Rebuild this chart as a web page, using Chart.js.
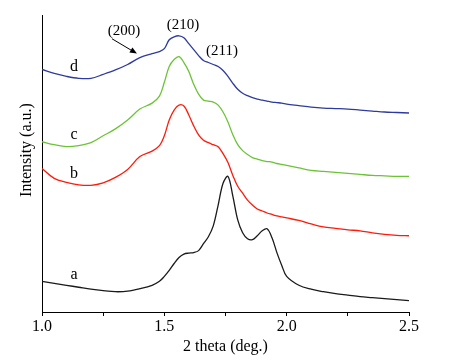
<!DOCTYPE html>
<html>
<head>
<meta charset="utf-8">
<title>SAXS patterns</title>
<script src="https://cdn.jsdelivr.net/npm/chart.js@4.4.1/dist/chart.umd.min.js"></script>
<style>
  html,body{margin:0;padding:0;background:#fff;}
  #wrap{position:relative;width:458px;height:361px;}
</style>
</head>
<body>
<div id="wrap"><canvas id="c" width="458" height="361"></canvas></div>
<script>
/* ---------- data ---------- */
const twoTheta=[1.00,1.05,1.10,1.15,1.20,1.25,1.30,1.35,1.40,1.45,1.48,1.50,1.52,1.54,1.56,1.58,1.60,1.62,1.64,1.66,1.68,1.70,1.72,1.74,1.76,1.78,1.80,1.82,1.84,1.86,1.88,1.90,1.92,1.94,1.96,1.98,2.00,2.05,2.10,2.15,2.20,2.25,2.30,2.35,2.40,2.45,2.50];

const curveA=[31,29,27,25,23,21.5,20.5,21,23.5,27,31,36,42,49,55,58.5,59.5,60,62,69,76,87,108,130,137,117,93,80,74,73,77,82,84,75,60,47,36,27,23,20.5,18.5,17,15.5,14.5,13.5,12.5,11.5];
const curveB=[145,135,131,128.5,128,130.5,136,144,157,162.5,168,178,194,204,209,208,199,188,179,173.5,171,169,167,160,151,138,127,120,113,108,104,102,100,98.5,97,96,95,92.5,89,86,84.5,83,82,80,78.5,77.5,77];
const curveC=[172,169,167,168,171,178,185,194,205,211,218,232,248,255,258,252,243,230,220,214,213,212,209,202,192,179,169,163,159,156,154.5,153,152,151.5,150,149,148,145.5,143,142,141,140,139,138,137.5,137,137];
const curveD=[245,241,238,236,236,240,244.5,250,257,261,263,266,275,278,279,277,271,265,259,254,252,250,248,244,238,231,225,221,218.5,216.5,215,214,213,212,211.5,211,210,208.5,207,206,205.5,205,204,203,202,201.5,201];

const seriesNames=['a','b','c','d'];
const seriesColors=['#1a1a1a','#ff1a0a','#6cc337','#2e3b9e'];

const xTicksMajor=[1.0,1.5,2.0,2.5];

// curve letters: [text, x, y]
const letterLabels=[['a',1.131,33],['b',1.131,135],['c',1.131,175],['d',1.131,243]];
// reflection labels: [text, x, y]
const peakLabels=[['(200)',1.335,280],['(210)',1.576,286],['(211)',1.736,260]];
// arrow for (200): [x0,y0,x1,y1]
const arrow200=[1.286,276,1.388,261];

/* ---------- chart ---------- */
Chart.defaults.font.family="'Liberation Serif','Times New Roman',serif";
Chart.defaults.color='#000';

const series=[curveA,curveB,curveC,curveD];
const datasets=series.map((ys,i)=>({
  label:seriesNames[i],
  data:ys.map((y,k)=>({x:twoTheta[k],y})),
  borderColor:seriesColors[i],
  borderWidth:1.3,
  pointRadius:0,
  tension:0.35,
  fill:false
}));

const annot={
  id:'annot',
  afterDatasetsDraw(chart){
    const {ctx,scales:{x,y},chartArea:a}=chart;
    ctx.save();
    ctx.fillStyle='#000';
    ctx.font="16px 'Liberation Serif',serif";
    ctx.textAlign='center';ctx.textBaseline='alphabetic';
    letterLabels.forEach(([t,vx,vy])=>ctx.fillText(t,x.getPixelForValue(vx),y.getPixelForValue(vy)));
    ctx.font="15px 'Liberation Serif',serif";
    peakLabels.forEach(([t,vx,vy])=>ctx.fillText(t,x.getPixelForValue(vx),y.getPixelForValue(vy)));
    // arrow
    const x0=x.getPixelForValue(arrow200[0]),y0=y.getPixelForValue(arrow200[1]);
    const x1=x.getPixelForValue(arrow200[2]),y1=y.getPixelForValue(arrow200[3]);
    const ang=Math.atan2(y1-y0,x1-x0);
    ctx.strokeStyle='#000';ctx.lineWidth=1;
    ctx.beginPath();ctx.moveTo(x0,y0);ctx.lineTo(x1-4*Math.cos(ang),y1-4*Math.sin(ang));ctx.stroke();
    ctx.beginPath();
    ctx.moveTo(x1,y1);
    ctx.lineTo(x1-7*Math.cos(ang)+3*Math.sin(ang),y1-7*Math.sin(ang)-3*Math.cos(ang));
    ctx.lineTo(x1-7*Math.cos(ang)-3*Math.sin(ang),y1-7*Math.sin(ang)+3*Math.cos(ang));
    ctx.closePath();ctx.fill();
    // y axis title
    ctx.font="16px 'Liberation Serif',serif";
    ctx.translate(a.left-15,a.top+135);
    ctx.rotate(-Math.PI/2);
    ctx.textBaseline='middle';
    ctx.fillText('Intensity (a.u.)',0,0);
    ctx.restore();
  }
};

new Chart(document.getElementById('c'),{
  type:'line',
  data:{datasets},
  options:{
    responsive:false,
    animation:false,
    layout:{padding:{left:42,top:15,right:49,bottom:6}},
    plugins:{legend:{display:false},tooltip:{enabled:false}},
    scales:{
      x:{
        type:'linear',min:1.0,max:2.5,
        border:{color:'#000',width:1},
        grid:{drawOnChartArea:false,tickLength:4,color:'#000'},
        ticks:{stepSize:0.25,padding:3,font:{size:16,lineHeight:1},
          callback:v=>xTicksMajor.some(t=>Math.abs(t-v)<1e-6)?v.toFixed(1):''},
        title:{display:true,text:'2 theta (deg.)',font:{size:16,lineHeight:1},padding:{top:1,bottom:0}}
      },
      y:{
        min:0,max:300,
        border:{color:'#000',width:1},
        grid:{drawOnChartArea:false,drawTicks:false},
        ticks:{display:false}
      }
    }
  },
  plugins:[annot]
});
</script>
</body>
</html>
